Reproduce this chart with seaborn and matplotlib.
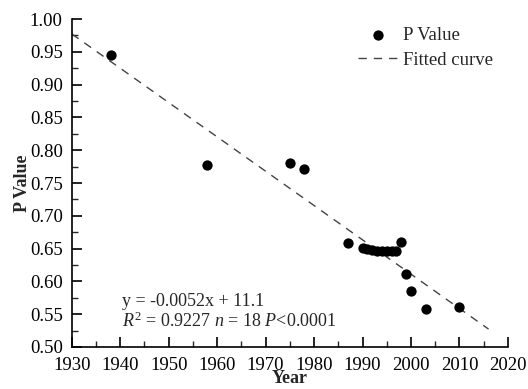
import numpy as np
import pandas as pd
import matplotlib
matplotlib.use("Agg")
import matplotlib.pyplot as plt
import seaborn as sns
from matplotlib.ticker import MultipleLocator

years = [1938, 1958, 1975, 1978, 1987, 1990, 1991, 1992, 1993, 1994, 1995, 1996, 1997,
         1998, 1999, 2000, 2003, 2010]
p_values = [0.945, 0.778, 0.781, 0.771, 0.658, 0.651, 0.650, 0.648, 0.646, 0.646, 0.646,
            0.646, 0.646, 0.660, 0.612, 0.585, 0.558, 0.561]
fit_slope = -0.005233
fit_intercept = 11.077
fit_years = [1930, 2016]

x_ticks = [1930, 1940, 1950, 1960, 1970, 1980, 1990, 2000, 2010, 2020]
y_ticks = [0.50, 0.55, 0.60, 0.65, 0.70, 0.75, 0.80, 0.85, 0.90, 0.95, 1.00]

sns.set_style("ticks")
plt.rcParams['font.family'] = ['Liberation Serif', 'DejaVu Serif']
plt.rcParams['mathtext.fontset'] = 'custom'
plt.rcParams['mathtext.rm'] = 'Liberation Serif'
plt.rcParams['mathtext.it'] = 'Liberation Serif:italic'

df = pd.DataFrame({"Year": years, "P Value": p_values})
fit_df = pd.DataFrame({"Year": fit_years,
                       "P": [fit_slope * y + fit_intercept for y in fit_years]})

fig = plt.figure(figsize=(5.28, 3.89), dpi=100)
ax = fig.add_axes([0.136, 0.108, 0.826, 0.843])

sns.lineplot(data=fit_df, x="Year", y="P", ax=ax, color="#444444", lw=1.0,
             linestyle=(0, (6, 5)), label="Fitted curve")
sns.scatterplot(data=df, x="Year", y="P Value", ax=ax, color="black", s=55,
                edgecolor="black", linewidth=0, label="P Value", zorder=3)

ax.set_xlim(1930, 2020)
ax.set_ylim(0.50, 1.00)
ax.set_xticks(x_ticks)
ax.set_yticks(y_ticks)
ax.set_xticklabels([str(t) for t in x_ticks])
ax.set_yticklabels([f"{t:.2f}" for t in y_ticks])
ax.xaxis.set_minor_locator(MultipleLocator(5))
ax.yaxis.set_minor_locator(MultipleLocator(0.025))
ax.tick_params(axis="both", which="major", direction="in", length=7, width=1.2,
               labelsize=13.5, colors="black")
ax.tick_params(axis="x", which="major", pad=7)
ax.tick_params(axis="y", which="major", pad=6.5)
ax.tick_params(axis="both", which="minor", direction="in", length=4, width=1.0)
for s in ["top", "right"]:
    ax.spines[s].set_visible(False)
for s in ["left", "bottom"]:
    ax.spines[s].set_linewidth(1.2)
    ax.spines[s].set_color("black")

ax.set_xlabel("Year", fontsize=13, fontweight="bold", labelpad=-3)
ax.set_ylabel("P Value", fontsize=13, fontweight="bold", labelpad=-1)

ax.text(1940.3, 0.569, "y = -0.0052x + 11.1", fontsize=13, va="center")
ax.text(1940.3, 0.539, r"$R^{2}$ = 0.9227 $n$ = 18 $P$<0.0001", fontsize=13, va="center")

handles, labels = ax.get_legend_handles_labels()
order = [labels.index("P Value"), labels.index("Fitted curve")]
ax.legend([handles[i] for i in order], [labels[i] for i in order],
          loc="upper right", bbox_to_anchor=(0.995, 1.015), frameon=False,
          fontsize=13.5, handlelength=2.2, handletextpad=0.2, labelspacing=0.4,
          borderaxespad=0.3)

fig.savefig("out.png", dpi=100)
